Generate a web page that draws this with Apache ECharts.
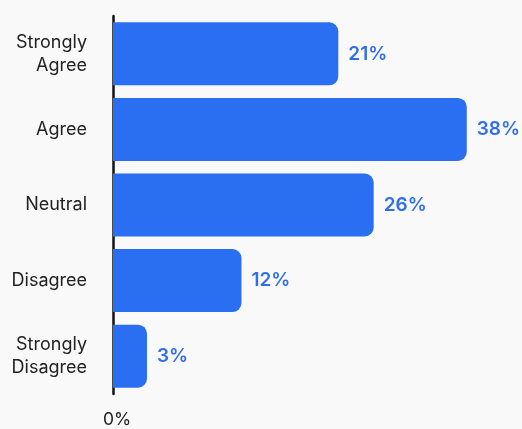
<!DOCTYPE html>
<html>
<head>
<meta charset="utf-8">
<script src="https://cdn.jsdelivr.net/npm/echarts@6/dist/echarts.min.js"></script>
<style>
  html, body { margin: 0; padding: 0; background: #f9f9f9; }
  #chart { width: 522px; height: 429px; }
</style>
</head>
<body>
<div id="chart"></div>
<script>
// answer categories, top to bottom
const categories = ['Strongly\nAgree', 'Agree', 'Neutral', 'Disagree', 'Strongly\nDisagree'];
// bar lengths as drawn in the picture (scale where the Agree bar = 38)
const barValues = [24.2, 38, 28.0, 13.8, 3.65];
// value labels printed next to each bar
const valueLabels = ['21%', '38%', '26%', '12%', '3%'];

const chart = echarts.init(document.getElementById('chart'));
chart.setOption({
  backgroundColor: '#f9f9f9',
  textStyle: { fontFamily: 'Inter' },
  grid: { left: 113, right: 36.6, top: 16, bottom: 34.5, containLabel: false },
  xAxis: {
    type: 'value',
    min: 0,
    max: 40,
    interval: 40,
    splitLine: { show: false },
    axisLine: { show: false },
    axisTick: { show: false },
    axisLabel: {
      showMaxLabel: false,
      margin: 17,
      padding: [0, 0, 0, 8],
      color: '#222',
      fontSize: 17.5,
      fontFamily: 'Inter',
      formatter: v => (v === 0 ? '0%' : '')
    }
  },
  yAxis: {
    type: 'category',
    inverse: true,
    data: categories,
    axisLine: { show: true, lineStyle: { color: '#111', width: 2.5 } },
    axisTick: { show: false },
    axisLabel: {
      margin: 26,
      color: '#222',
      fontSize: 18,
      lineHeight: 23,
      fontFamily: 'Inter',
      align: 'right'
    }
  },
  series: [{
    type: 'bar',
    data: barValues,
    barWidth: 63,
    itemStyle: { color: '#2a6ff2', borderRadius: [0, 9, 9, 0] },
    label: {
      show: true,
      position: 'right',
      distance: 10,
      color: '#2f6fee',
      fontSize: 19,
      fontWeight: 600,
      fontFamily: 'Inter',
      formatter: p => valueLabels[p.dataIndex]
    }
  }]
});
</script>
</body>
</html>
